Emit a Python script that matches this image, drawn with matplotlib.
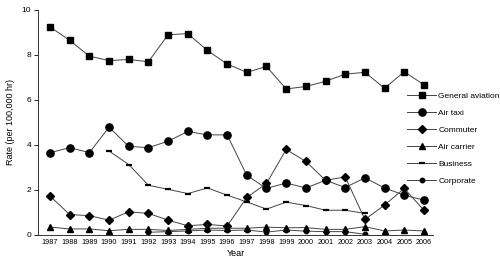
import matplotlib
matplotlib.use("Agg")
import matplotlib.pyplot as plt
import numpy as np

years = list(range(1987, 2007))

general_aviation = [9.25, 8.65, 7.95, 7.75, 7.8, 7.7, 8.9, 8.95, 8.2, 7.6,
                    7.23, 7.49, 6.49, 6.6, 6.83, 7.15, 7.23, 6.52, 7.26, 6.67]
air_taxi = [3.66, 3.88, 3.66, 4.79, 3.94, 3.88, 4.17, 4.6, 4.45, 4.45,
            2.65, 2.07, 2.31, 2.09, 2.43, 2.11, 2.54, 2.09, 1.77, 1.55]
commuter = [1.73, 0.91, 0.86, 0.66, 1.03, 0.96, 0.66, 0.41, 0.47, 0.40,
            1.67, 2.29, 3.8, 3.27, 2.43, 2.58, 0.69, 1.33, 2.07, 1.1]
air_carrier = [0.35, 0.27, 0.27, 0.19, 0.25, 0.25, 0.2, 0.25, 0.3, 0.3,
               0.3, 0.35, 0.32, 0.33, 0.25, 0.25, 0.37, 0.18, 0.22, 0.18]
business_years = list(range(1990, 2004))
business = [3.73, 3.13, 2.21, 2.03, 1.84, 2.09, 1.77, 1.47, 1.15, 1.46,
            1.31, 1.1, 1.1, 0.96]
corporate_years = list(range(1992, 2004))
corporate = [0.12, 0.15, 0.18, 0.22, 0.2, 0.22, 0.13, 0.22, 0.17, 0.15, 0.15, 0.03]

yticks = [0, 2, 4, 6, 8, 10]

plt.rcParams['font.family'] = ['Liberation Sans', 'DejaVu Sans']

fig = plt.figure(figsize=(5.0, 2.63), dpi=100)
ax = fig.add_axes([0.076, 0.1065, 0.79, 0.8555])

lc = '#444444'
lw = 0.7
ax.plot(years, general_aviation, color=lc, lw=lw, marker='s', ms=4.3,
        mfc='black', mec='black', label='General aviation')
ax.plot(years, air_taxi, color=lc, lw=lw, marker='o', ms=5.2,
        mfc='black', mec='black', label='Air taxi')
ax.plot(years, commuter, color=lc, lw=lw, marker='D', ms=4.0,
        mfc='black', mec='black', label='Commuter')
ax.plot(years, air_carrier, color=lc, lw=lw, marker='^', ms=4.0,
        mfc='black', mec='black', label='Air carrier')
ax.plot(business_years, business, color=lc, lw=lw, marker='_', ms=5,
        mew=1.6, mfc='black', mec='black', label='Business')
ax.plot(corporate_years, corporate, color=lc, lw=lw, marker='o', ms=3.2,
        mfc='black', mec='black', label='Corporate')

ax.set_xlim(1986.39, 2006.46)
ax.set_ylim(0, 10)
ax.set_yticks(yticks)
ax.set_yticklabels([str(v) for v in yticks], fontsize=6)
ax.set_xticks(years)
ax.set_xticklabels([str(y) for y in years], fontsize=5.2)
ax.tick_params(axis='x', length=0, pad=3)
ax.tick_params(axis='y', length=3, width=0.6, pad=2)
for s in ['top', 'right']:
    ax.spines[s].set_visible(False)
for s in ['left', 'bottom']:
    ax.spines[s].set_linewidth(0.7)
    ax.spines[s].set_color('#333333')

ax.set_xlabel('Year', fontsize=6.5, labelpad=2)
ax.set_ylabel('Rate (per 100,000 hr)', fontsize=6.5, labelpad=5)

fig.legend(loc='upper left', bbox_to_anchor=(0.808, 0.662), frameon=False,
           fontsize=6.0, handlelength=3.4, labelspacing=1.1,
           handletextpad=0.3, borderaxespad=0)

fig.savefig('out.png', dpi=100)
